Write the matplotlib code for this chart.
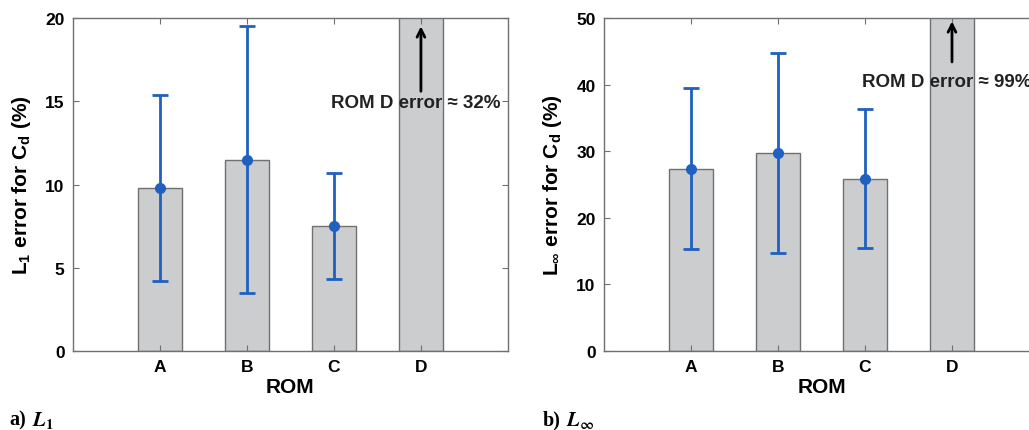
import matplotlib
matplotlib.use("Agg")
import matplotlib.pyplot as plt

# ROM categories and error statistics
roms = ["A", "B", "C", "D"]

l1_mean = [9.8, 11.5, 7.5, 32.0]
l1_low = [4.2, 3.5, 4.3]
l1_high = [15.4, 19.5, 10.7]

linf_mean = [27.4, 29.8, 25.9, 99.0]
linf_low = [15.3, 14.7, 15.4]
linf_high = [39.5, 44.8, 36.4]

plt.rcParams["font.family"] = ["Liberation Sans", "DejaVu Sans"]
plt.rcParams["font.weight"] = "bold"
plt.rcParams["mathtext.fontset"] = "custom"
plt.rcParams["mathtext.rm"] = "Liberation Sans:bold"
plt.rcParams["mathtext.it"] = "Liberation Sans:bold"
plt.rcParams["mathtext.bf"] = "Liberation Sans:bold"

EDGE = "#707070"
BLUE = "#1f60c0"


def draw_panel(ax, means, low, high, ymax, yticks, ylabel, note, note_y, arrow):
    x = list(range(1, len(roms) + 1))

    # Gray bars, the last one runs off the top of the axis
    ax.bar(x, means, width=0.5, color="#cbcdcf", edgecolor=EDGE, linewidth=1.0)

    # Blue error bars with a dot at the mean (ROMs A-C only)
    m = means[:3]
    yerr = [[mi - lo for mi, lo in zip(m, low)], [hi - mi for mi, hi in zip(m, high)]]
    ax.errorbar(x[:3], m, yerr=yerr, fmt="o", color=BLUE, ecolor=BLUE,
                elinewidth=2.0, capsize=5.5, capthick=2.0, markersize=7)

    ax.set_xlim(0, 5)
    ax.set_ylim(0, ymax)
    ax.set_xticks(x)
    ax.set_xticklabels(roms)
    ax.set_yticks(yticks)

    # MATLAB style box with inward ticks on all sides
    for s in ax.spines.values():
        s.set_color(EDGE)
        s.set_linewidth(1.0)
    ax.tick_params(direction="in", top=True, right=True, length=4,
                   color=EDGE, labelsize=12.5, pad=6)

    ax.set_xlabel("ROM", fontsize=15, fontweight="bold", labelpad=2)
    ax.set_ylabel(ylabel, fontsize=15, fontweight="bold", labelpad=9)

    # Annotation for the off-scale ROM D bar
    ax.annotate("", xy=(4, arrow[1]), xytext=(4, arrow[0]),
                arrowprops=dict(arrowstyle="->", color="black", lw=2.0,
                                mutation_scale=14, shrinkA=0, shrinkB=0))
    ax.text(2.97, note_y, note, fontsize=13.5, fontweight="bold",
            ha="left", va="center", color="#222222")


fig = plt.figure(figsize=(10.29, 4.31), dpi=100)
ax1 = fig.add_axes([0.0709, 0.1833, 0.4227, 0.7726])
ax2 = fig.add_axes([0.587, 0.1833, 0.4227, 0.7726])

draw_panel(ax1, l1_mean, l1_low, l1_high, 20, [0, 5, 10, 15, 20],
           r"L$_1$ error for C$_d$ (%)", "ROM D error ≈ 32%", 14.95,
           (15.6, 19.5))
draw_panel(ax2, linf_mean, linf_low, linf_high, 50, [0, 10, 20, 30, 40, 50],
           r"L$_\infty$ error for C$_d$ (%)", "ROM D error ≈ 99%", 40.5,
           (43.4, 49.5))

# Panel captions in a serif face
fig.text(0.009, 0.012, "a)", fontsize=14.5, fontweight="bold",
         family="Liberation Serif", va="baseline")
fig.text(0.031, 0.012, r"$L_1$", fontsize=15, math_fontfamily="stix", va="baseline")
fig.text(0.527, 0.012, "b)", fontsize=14.5, fontweight="bold",
         family="Liberation Serif", va="baseline")
fig.text(0.550, 0.012, r"$L_\infty$", fontsize=15, math_fontfamily="stix", va="baseline")

fig.savefig("out.png", dpi=100)
